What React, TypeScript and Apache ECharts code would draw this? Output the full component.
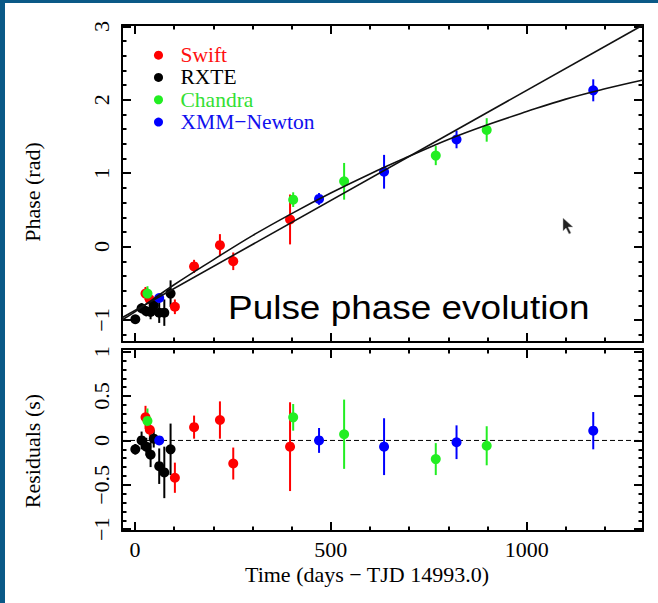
import React, { useEffect, useRef } from "react";
import * as echarts from "echarts";

// ---- axis ranges & ticks ----
const X_MIN = -33;
const X_MAX = 1297;
const PHASE_MIN = -1.3;
const PHASE_MAX = 3.02;
const RESID_MIN = -1.02;
const RESID_MAX = 1.03;

const xMajorTicks = [0, 500, 1000];
const xMinorTicks = [0, 100, 200, 300, 400, 500, 600, 700, 800, 900, 1000, 1100, 1200];
const phaseMajorTicks = [-1, 0, 1, 2, 3];
const phaseMinorTicks = [-1.2, -1.0, -0.8, -0.6, -0.4, -0.2, 0, 0.2, 0.4, 0.6, 0.8, 1.0, 1.2, 1.4, 1.6, 1.8, 2.0, 2.2, 2.4, 2.6, 2.8, 3.0];
const residMajorTicks = [-1, -0.5, 0, 0.5, 1];
const residMinorTicks = [-1.0, -0.9, -0.8, -0.7, -0.6, -0.5, -0.4, -0.3, -0.2, -0.1, 0, 0.1, 0.2, 0.3, 0.4, 0.5, 0.6, 0.7, 0.8, 0.9, 1.0];

// ---- data: Swift ----
const swiftT = [27, 38, 102, 151, 217, 251, 396];
const swiftPhase = [-0.64, -0.72, -0.82, -0.27, 0.02, -0.2, 0.37];
const swiftPhaseErr = [0.09, 0.06, 0.1, 0.09, 0.15, 0.12, 0.34];
const swiftResid = [0.26, 0.12, -0.42, 0.15, 0.23, -0.26, -0.07];
const swiftResidErr = [0.13, 0.08, 0.17, 0.13, 0.21, 0.18, 0.5];

// ---- data: RXTE ----
const rxteT = [1, 17, 29, 40, 48, 62, 75, 91];
const rxtePhase = [-0.99, -0.84, -0.88, -0.89, -0.8, -0.9, -0.9, -0.64];
const rxtePhaseErr = [0.04, 0.07, 0.07, 0.1, 0.07, 0.14, 0.18, 0.18];
const rxteResid = [-0.1, 0.0, -0.07, -0.16, 0.02, -0.29, -0.36, -0.1];
const rxteResidErr = [0.06, 0.1, 0.1, 0.14, 0.1, 0.2, 0.29, 0.29];

// ---- data: Chandra ----
const chandraT = [32, 404, 534, 768, 898];
const chandraPhase = [-0.64, 0.64, 0.89, 1.24, 1.59];
const chandraPhaseErr = [0.1, 0.1, 0.25, 0.13, 0.16];
const chandraResid = [0.22, 0.26, 0.07, -0.21, -0.06];
const chandraResidErr = [0.14, 0.15, 0.39, 0.18, 0.22];

// ---- data: XMM-Newton ----
const xmmT = [62, 470, 636, 821, 1170];
const xmmPhase = [-0.7, 0.65, 1.02, 1.46, 2.13];
const xmmPhaseErr = [0.03, 0.08, 0.23, 0.12, 0.15];
const xmmResid = [0.0, 0.0, -0.07, -0.02, 0.11];
const xmmResidErr = [0.03, 0.14, 0.32, 0.19, 0.21];

// ---- fitted models ----
const curveT = [-33, 0, 100, 200, 300, 400, 500, 600, 700, 800, 900, 1000, 1100, 1200, 1297];
const curvePhase = [-1.0, -0.89, -0.52, -0.18, 0.15, 0.45, 0.73, 0.99, 1.23, 1.46, 1.66, 1.84, 2.01, 2.15, 2.27];
const lineT = [-33, 1297];
const linePhase = [-0.97, 3.02];
const zeroT = [X_MIN, X_MAX];
const zeroResid = [0, 0];

const instruments = [
  { name: "Swift", color: "#ff0000", text: "#ff1010", t: swiftT, phase: swiftPhase, phaseErr: swiftPhaseErr, resid: swiftResid, residErr: swiftResidErr },
  { name: "RXTE", color: "#000000", text: "#000000", t: rxteT, phase: rxtePhase, phaseErr: rxtePhaseErr, resid: rxteResid, residErr: rxteResidErr },
  { name: "Chandra", color: "#22ee22", text: "#33e033", t: chandraT, phase: chandraPhase, phaseErr: chandraPhaseErr, resid: chandraResid, residErr: chandraResidErr },
  { name: "XMM\u2212Newton", color: "#0000ff", text: "#1010ee", t: xmmT, phase: xmmPhase, phaseErr: xmmPhaseErr, resid: xmmResid, residErr: xmmResidErr },
];

const SERIF = "Liberation Serif";
const fmt = (v: number) => (v < 0 ? "\u2212" + Math.abs(v) : String(v));

function xAxes(grid: number, labels: boolean) {
  const base = {
    type: "value",
    gridIndex: grid,
    min: X_MIN,
    max: X_MAX,
    splitLine: { show: false },
  };
  const line = { show: true, onZero: false, lineStyle: { color: "#000", width: 2 } };
  const res: any[] = [];
  for (const pos of ["bottom", "top"]) {
    res.push({
      ...base,
      position: pos,
      axisLine: line,
      axisTick: { show: true, inside: true, length: 9, lineStyle: { color: "#000", width: 2 }, customValues: xMajorTicks },
      axisLabel: {
        show: labels && pos === "bottom",
        customValues: xMajorTicks,
        margin: 7,
        formatter: (v: number) => String(v),
        fontFamily: SERIF,
        fontSize: 22,
        color: "#000",
      },
    });
    res.push({
      ...base,
      position: pos,
      axisLine: { show: false, onZero: false },
      axisTick: { show: true, inside: true, length: 4.5, lineStyle: { color: "#000", width: 2 }, customValues: xMinorTicks },
      axisLabel: { show: false },
    });
  }
  return res;
}

function yAxes(grid: number, min: number, max: number, major: number[], minor: number[]) {
  const base = { type: "value", gridIndex: grid, min, max, splitLine: { show: false } };
  const line = { show: true, onZero: false, lineStyle: { color: "#000", width: 2 } };
  const res: any[] = [];
  for (const pos of ["left", "right"]) {
    res.push({
      ...base,
      position: pos,
      axisLine: line,
      axisTick: { show: true, inside: true, length: 9, lineStyle: { color: "#000", width: 2 }, customValues: major },
      axisLabel: {
        show: pos === "left",
        customValues: major,
        rotate: 90,
        margin: 10,
        formatter: fmt,
        fontFamily: SERIF,
        fontSize: 22,
        color: "#000",
      },
    });
    res.push({
      ...base,
      position: pos,
      axisLine: { show: false, onZero: false },
      axisTick: { show: true, inside: true, length: 4.5, lineStyle: { color: "#000", width: 2 }, customValues: minor },
      axisLabel: { show: false },
    });
  }
  return res;
}

function errSeries(name: string, color: string, xi: number, yi: number, data: number[][]) {
  return {
    type: "custom",
    name: name + " error",
    xAxisIndex: xi,
    yAxisIndex: yi,
    data,
    encode: { x: 0, y: [1, 2] },
    silent: true,
    z: 2,
    renderItem: (_p: any, api: any) => {
      const a = api.coord([api.value(0), api.value(1)]);
      const b = api.coord([api.value(0), api.value(2)]);
      return {
        type: "line",
        shape: { x1: a[0], y1: a[1], x2: b[0], y2: b[1] },
        style: { stroke: color, lineWidth: 2 },
      };
    },
  };
}

export default function App() {
  const ref = useRef<HTMLDivElement>(null);

  useEffect(() => {
    document.body.style.margin = "0";
    if (!ref.current) return;
    const chart = echarts.init(ref.current, null, { renderer: "svg" });

    const series: any[] = [];
    series.push({
      type: "line",
      name: "zero",
      xAxisIndex: 4,
      yAxisIndex: 4,
      data: zeroT.map((t, i) => [t, zeroResid[i]]),
      symbol: "none",
      lineStyle: { color: "#000", width: 1, type: [5, 3] },
      z: 1,
      silent: true,
    });
    for (const ins of instruments) {
      series.push(errSeries(ins.name, ins.color, 0, 0, ins.t.map((t, i) => [t, ins.phase[i] - ins.phaseErr[i], ins.phase[i] + ins.phaseErr[i]])));
      series.push({
        type: "scatter",
        name: ins.name,
        xAxisIndex: 0,
        yAxisIndex: 0,
        data: ins.t.map((t, i) => [t, ins.phase[i]]),
        symbol: "circle",
        symbolSize: 10,
        itemStyle: { color: ins.color, opacity: 1 },
        z: 3,
      });
      series.push(errSeries(ins.name, ins.color, 4, 4, ins.t.map((t, i) => [t, ins.resid[i] - ins.residErr[i], ins.resid[i] + ins.residErr[i]])));
      series.push({
        type: "scatter",
        name: ins.name + " resid",
        xAxisIndex: 4,
        yAxisIndex: 4,
        data: ins.t.map((t, i) => [t, ins.resid[i]]),
        symbol: "circle",
        symbolSize: 10,
        itemStyle: { color: ins.color, opacity: 1 },
        z: 3,
      });
    }
    series.push({
      type: "line",
      name: "quadratic model",
      xAxisIndex: 0,
      yAxisIndex: 0,
      data: curveT.map((t, i) => [t, curvePhase[i]]),
      symbol: "none",
      smooth: 0.4,
      lineStyle: { color: "#111", width: 1.6 },
      z: 4,
      silent: true,
    });
    series.push({
      type: "line",
      name: "linear model",
      xAxisIndex: 0,
      yAxisIndex: 0,
      data: lineT.map((t, i) => [t, linePhase[i]]),
      symbol: "none",
      lineStyle: { color: "#111", width: 1.6 },
      z: 4,
      silent: true,
    });

    chart.setOption({
      animation: false,
      backgroundColor: "#ffffff",
      grid: [
        { left: 122, top: 25, width: 521, height: 317 },
        { left: 122, top: 349, width: 521, height: 182 },
      ],
      xAxis: [...xAxes(0, false), ...xAxes(1, true)],
      yAxis: [
        ...yAxes(0, PHASE_MIN, PHASE_MAX, phaseMajorTicks, phaseMinorTicks),
        ...yAxes(1, RESID_MIN, RESID_MAX, residMajorTicks, residMinorTicks),
      ],
      legend: {
        orient: "vertical",
        left: 154,
        top: 44,
        itemWidth: 34,
        itemHeight: 9,
        itemGap: 0,
        icon: "circle",
        selectedMode: false,
        padding: 0,
        data: instruments.map((ins) => ({ name: ins.name, textStyle: { color: ins.text } })),
        textStyle: { fontFamily: SERIF, fontSize: 21.5, lineHeight: 22.3 },
      },
      series,
      graphic: [
        { type: "rect", shape: { x: 0, y: 0, width: 658, height: 3 }, style: { fill: "#0a5987" }, silent: true },
        { type: "rect", shape: { x: 0, y: 0, width: 5, height: 603 }, style: { fill: "#0a5987" }, silent: true },
        {
          type: "text",
          x: 32,
          y: 192,
          rotation: Math.PI / 2,
          style: { text: "Phase (rad)", font: `22px "${SERIF}"`, fill: "#000", textAlign: "center", textVerticalAlign: "middle" },
        },
        {
          type: "text",
          x: 32,
          y: 451,
          rotation: Math.PI / 2,
          style: { text: "Residuals (s)", font: `22px "${SERIF}"`, fill: "#000", textAlign: "center", textVerticalAlign: "middle" },
        },
        {
          type: "text",
          x: 367,
          y: 574,
          style: { text: "Time (days \u2212 TJD 14993.0)", font: `22px "${SERIF}"`, fill: "#000", textAlign: "center", textVerticalAlign: "middle" },
        },
        {
          type: "text",
          x: 228,
          y: 307,
          scaleX: 1.12,
          z: 10,
          style: { text: "Pulse phase evolution", font: `33px "Liberation Sans"`, fill: "#000", textAlign: "left", textVerticalAlign: "middle" },
        },
        {
          type: "polygon",
          z: 10,
          shape: { points: [[563, 218], [563, 231], [566, 228], [569, 234], [571, 233], [568, 227], [573, 227]] },
          style: { fill: "#222", stroke: "#bbb", lineWidth: 0.5 },
          silent: true,
        },
      ],
    });

    return () => chart.dispose();
  }, []);

  return <div ref={ref} style={{ width: 658, height: 603 }} />;
}
